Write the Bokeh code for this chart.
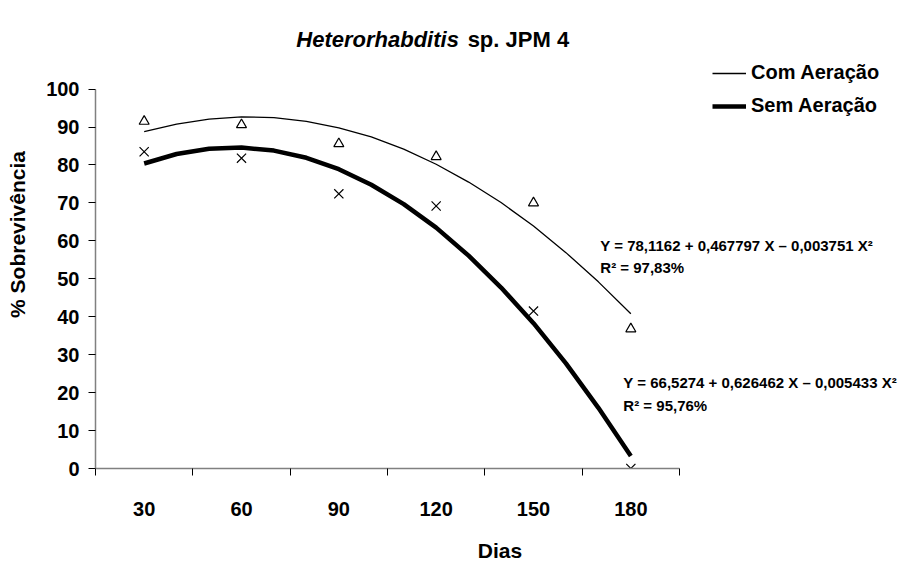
from bokeh.plotting import figure
from bokeh.models import FixedTicker, Legend, LegendItem, Label
from bokeh.embed import file_html
from bokeh.resources import INLINE

# ---- data ----
days = [30, 60, 90, 120, 150, 180]
tick_labels = {30: "30", 60: "60", 90: "90", 120: "120", 150: "150", 180: "180"}
com_obs = [91.5, 90.6, 85.6, 82.2, 70.0, 36.8]
sem_obs = [83.5, 81.8, 72.4, 69.2, 41.5, 0.0]

# trend-line points
curve_days = [30, 40, 50, 60, 70, 80, 90, 100, 110, 120, 130, 140, 150, 160, 170, 180]
com_curve = [88.8, 90.8, 92.1, 92.7, 92.5, 91.5, 89.8, 87.4, 84.2, 80.2, 75.5, 70.1, 63.9, 56.9, 49.2, 40.8]
sem_curve = [80.4, 82.9, 84.3, 84.6, 83.8, 81.9, 78.9, 74.8, 69.7, 63.5, 56.1, 47.7, 38.3, 27.7, 16.0, 3.3]

y_ticks = [0, 10, 20, 30, 40, 50, 60, 70, 80, 90, 100]
bin_edges = [15, 45, 75, 105, 135, 165, 195]

title_main = "Heterorhabditis"
title_rest = "sp. JPM 4"
eq_com = "Y = 78,1162 + 0,467797 X \u2013 0,003751 X\u00b2"
r2_com = "R\u00b2 = 97,83%"
eq_sem = "Y = 66,5274 + 0,626462 X \u2013 0,005433 X\u00b2"
r2_sem = "R\u00b2 = 95,76%"

FONT = "Liberation Sans"

# frame extends to the top and right edges so that title, legend and
# equations (drawn inside it) are not clipped; axes are bounded.
p = figure(width=904, height=564, x_range=(15, 264.35), y_range=(0, 123.36),
           output_backend="svg", toolbar_location=None,
           min_border_left=95, min_border_right=0, min_border_top=0, min_border_bottom=94)
p.outline_line_color = None
p.background_fill_color = "white"
p.border_fill_color = "white"
p.xgrid.visible = False
p.ygrid.visible = False

xa = p.xaxis[0]
xa.bounds = (15, 195)
xa.ticker = FixedTicker(ticks=days, minor_ticks=bin_edges)
xa.major_label_overrides = tick_labels
xa.major_tick_in = 0
xa.major_tick_out = 0
xa.minor_tick_in = 0
xa.minor_tick_out = 7
xa.minor_tick_line_color = "black"
xa.axis_line_color = "#808080"
xa.axis_line_width = 1.5
xa.major_label_text_font = FONT
xa.major_label_text_font_style = "bold"
xa.major_label_text_font_size = "20px"
xa.major_label_text_color = "black"
xa.major_label_standoff = 26
xa.axis_label = "Dias"
xa.axis_label_text_font = FONT
xa.axis_label_text_font_style = "bold"
xa.axis_label_text_font_size = "21px"
xa.axis_label_text_color = "black"
xa.axis_label_standoff = 20

ya = p.yaxis[0]
ya.bounds = (0, 100)
ya.ticker = FixedTicker(ticks=y_ticks, minor_ticks=[])
ya.major_tick_in = 0
ya.major_tick_out = 7
ya.major_tick_line_color = "black"
ya.axis_line_color = "#808080"
ya.axis_line_width = 1.5
ya.major_label_text_font = FONT
ya.major_label_text_font_style = "bold"
ya.major_label_text_font_size = "20px"
ya.major_label_text_color = "black"
ya.major_label_standoff = 9
ya.axis_label = "% Sobreviv\u00eancia"
ya.axis_label_text_font = FONT
ya.axis_label_text_font_style = "bold"
ya.axis_label_text_font_size = "21px"
ya.axis_label_text_color = "black"
ya.axis_label_standoff = 14

# trend lines
r_com = p.line(curve_days, com_curve, line_color="black", line_width=1.3)
r_sem = p.line(curve_days, sem_curve, line_color="black", line_width=4.5)

# observations
p.scatter(days, com_obs, marker="triangle", size=10, fill_alpha=0,
          line_color="black", line_width=1.2)
p.scatter(days, sem_obs, marker="x", size=13, line_color="black", line_width=1.2)

legend = Legend(items=[LegendItem(label="Com Aera\u00e7\u00e3o", renderers=[r_com]),
                       LegendItem(label="Sem Aera\u00e7\u00e3o", renderers=[r_sem])],
                location=(617, 351), orientation="vertical")
legend.label_text_font = FONT
legend.label_text_font_style = "bold"
legend.label_text_font_size = "20px"
legend.label_text_color = "black"
legend.glyph_width = 34
legend.glyph_height = 20
legend.label_height = 20
legend.label_standoff = 5
legend.spacing = 10
legend.padding = 0
legend.margin = 0
legend.border_line_color = None
legend.background_fill_alpha = 0
p.add_layout(legend, "center")

# title (mixed italic / upright)
p.add_layout(Label(x=127.0, y=113.1, text=title_main, text_align="right", text_baseline="middle",
                   text_font=FONT, text_font_style="bold italic", text_font_size="22px",
                   text_color="black"))
p.add_layout(Label(x=129.7, y=113.1, text=title_rest, text_align="left", text_baseline="middle",
                   text_font=FONT, text_font_style="bold", text_font_size="22px",
                   text_color="black"))

# regression equations
for txt, xx, yy in [(eq_com, 170.6, 58.8), (r2_com, 170.6, 53.0),
                    (eq_sem, 177.7, 22.8), (r2_sem, 177.7, 16.5)]:
    p.add_layout(Label(x=xx, y=yy, text=txt, text_align="left", text_baseline="middle",
                       text_font=FONT, text_font_style="bold", text_font_size="15px",
                       text_color="black"))

open("out.html", "w").write(file_html(p, INLINE))
